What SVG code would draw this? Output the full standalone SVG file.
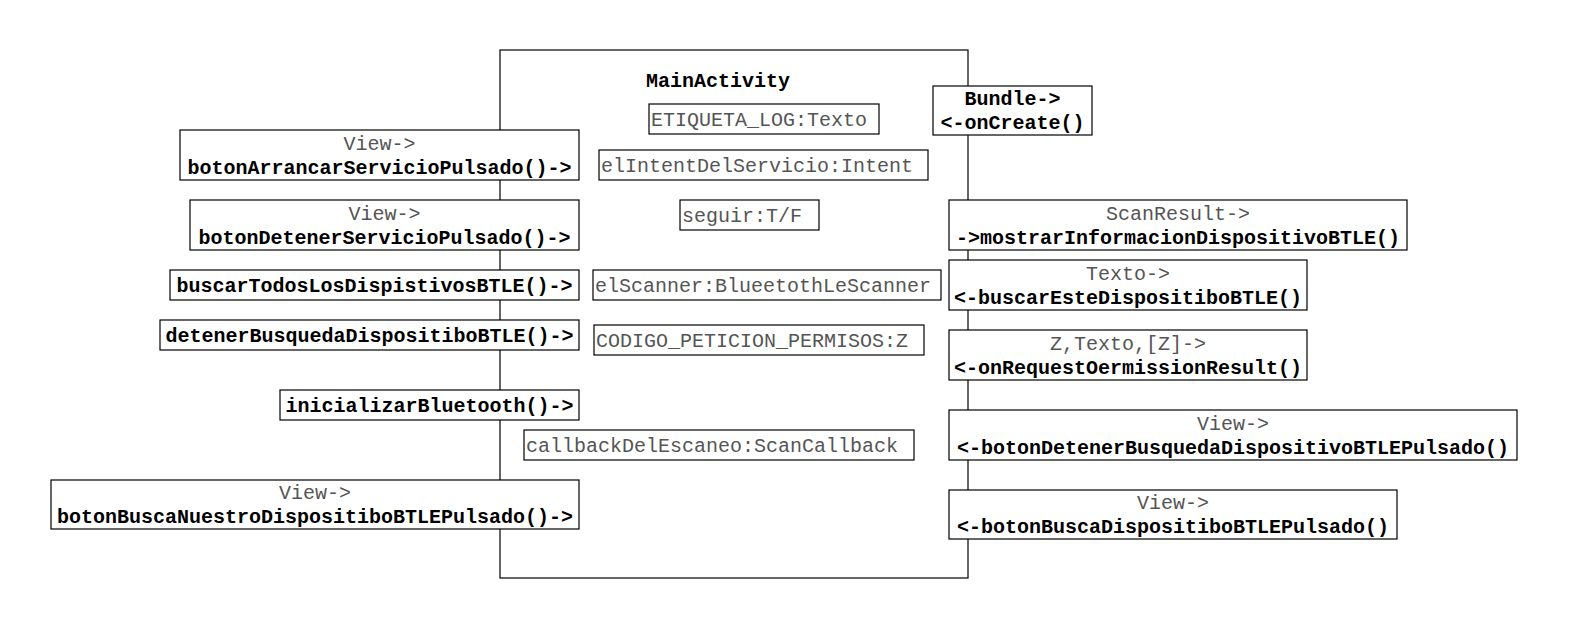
<svg xmlns="http://www.w3.org/2000/svg" width="1571" height="631" viewBox="0 0 1571 631">
<style>
rect{fill:#fff;stroke:#000;stroke-width:1.2}
text{font-family:"Liberation Mono","Courier New",monospace;font-size:20px}
.b{font-weight:bold;fill:#000}
.n{fill:#555}
.c{text-anchor:middle}
</style>
<rect x="0" y="0" width="1571" height="631" style="stroke:none"/>
<g id="MainActivity">
<rect x="500" y="50" width="468" height="528"/>
<text class="b c" x="718" y="87">MainActivity</text>
</g>
<g id="ETIQUETA_LOG"><rect x="649" y="104" width="230" height="30"/><text class="n" x="651" y="126">ETIQUETA_LOG:Texto</text></g>
<g id="elIntentDelServicio"><rect x="599" y="150" width="329" height="30"/><text class="n" x="601" y="172">elIntentDelServicio:Intent</text></g>
<g id="seguir"><rect x="680" y="200" width="139" height="30"/><text class="n" x="682" y="222">seguir:T/F</text></g>
<g id="elScanner"><rect x="593" y="270" width="348" height="30"/><text class="n" x="595" y="292">elScanner:BlueetothLeScanner</text></g>
<g id="CODIGO"><rect x="594" y="325" width="330" height="30"/><text class="n" x="596" y="347">CODIGO_PETICION_PERMISOS:Z</text></g>
<g id="callback"><rect x="524" y="430" width="390" height="30"/><text class="n" x="526" y="452">callbackDelEscaneo:ScanCallback</text></g>

<g id="botonArrancar"><rect x="180" y="130" width="399" height="50"/><text class="n c" x="379.5" y="150">View-&gt;</text><text class="b c" x="379.5" y="174">botonArrancarServicioPulsado()-&gt;</text></g>
<g id="botonDetener"><rect x="190" y="200" width="389" height="50"/><text class="n c" x="384.5" y="220">View-&gt;</text><text class="b c" x="384.5" y="244">botonDetenerServicioPulsado()-&gt;</text></g>
<g id="buscarTodos"><rect x="170" y="270" width="409" height="30"/><text class="b c" x="374.5" y="292">buscarTodosLosDispistivosBTLE()-&gt;</text></g>
<g id="detenerBusqueda"><rect x="160" y="320" width="419" height="30"/><text class="b c" x="369.5" y="342">detenerBusquedaDispositiboBTLE()-&gt;</text></g>
<g id="inicializar"><rect x="280" y="390" width="299" height="30"/><text class="b c" x="429.5" y="412">inicializarBluetooth()-&gt;</text></g>
<g id="botonBuscaNuestro"><rect x="51" y="480" width="528" height="49"/><text class="n c" x="315" y="499">View-&gt;</text><text class="b c" x="315" y="523">botonBuscaNuestroDispositiboBTLEPulsado()-&gt;</text></g>

<g id="onCreate"><rect x="933" y="86" width="159" height="49"/><text class="b c" x="1012.5" y="105">Bundle-&gt;</text><text class="b c" x="1012.5" y="129">&lt;-onCreate()</text></g>
<g id="mostrarInformacion"><rect x="949" y="200" width="458" height="50"/><text class="n c" x="1178" y="220">ScanResult-&gt;</text><text class="b c" x="1178" y="244">-&gt;mostrarInformacionDispositivoBTLE()</text></g>
<g id="buscarEste"><rect x="949" y="260" width="358" height="50"/><text class="n c" x="1128" y="280">Texto-&gt;</text><text class="b c" x="1128" y="304">&lt;-buscarEsteDispositiboBTLE()</text></g>
<g id="onRequest"><rect x="949" y="330" width="358" height="50"/><text class="n c" x="1128" y="350">Z,Texto,[Z]-&gt;</text><text class="b c" x="1128" y="374">&lt;-onRequestOermissionResult()</text></g>
<g id="botonDetenerBusqueda"><rect x="949" y="410" width="568" height="50"/><text class="n c" x="1233" y="430">View-&gt;</text><text class="b c" x="1233" y="454">&lt;-botonDetenerBusquedaDispositivoBTLEPulsado()</text></g>
<g id="botonBuscaDispositibo"><rect x="949" y="490" width="448" height="49"/><text class="n c" x="1173" y="509">View-&gt;</text><text class="b c" x="1173" y="533">&lt;-botonBuscaDispositiboBTLEPulsado()</text></g>
</svg>
